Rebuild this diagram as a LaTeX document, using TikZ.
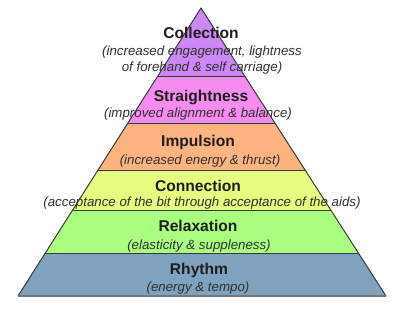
\documentclass[tikz,border=0pt]{standalone}
\usepackage{fontspec}
\setmainfont{Liberation Sans}
\usetikzlibrary{positioning,calc}

\begin{document}
\begin{tikzpicture}[x=1pt, y=1pt, line width=1pt,
  ttl/.style={font=\fontsize{15.6}{18}\selectfont\bfseries, text=txt, inner sep=0pt, anchor=base},
  sub/.style={font=\fontsize{13.3}{16}\selectfont\itshape, text=subtxt, align=center, inner sep=0pt, anchor=base},
  edge/.style={draw=rim, line width=1pt},
]
\definecolor{coll}{HTML}{CC88F7}
\definecolor{strt}{HTML}{F78CF0}
\definecolor{impl}{HTML}{FFB380}
\definecolor{conn}{HTML}{E6FF80}
\definecolor{relx}{HTML}{AAFF80}
\definecolor{rhym}{HTML}{7FA2BE}
\definecolor{rim}{HTML}{3A3A3A}
\definecolor{txt}{HTML}{1E1E1E}
\definecolor{subtxt}{HTML}{303030}
\useasboundingbox (0,0) rectangle (399,308);

% ---------------- pyramid ----------------
\coordinate (apex) at (201,300);
\coordinate (bl) at (18,12);
\coordinate (br) at (386,12);
\begin{scope}
  \clip (apex) -- (bl) -- (br) -- cycle;
  \fill[rhym] (0,12)  rectangle (399,54);
  \fill[relx] (0,54)  rectangle (399,97);
  \fill[conn] (0,97)  rectangle (399,137);
  \fill[impl] (0,137) rectangle (399,184);
  \fill[strt] (0,184) rectangle (399,231);
  \fill[coll] (0,231) rectangle (399,300);
  \draw[edge] (0,54)  -- (399,54);
  \draw[edge] (0,97)  -- (399,97);
  \draw[edge] (0,137) -- (399,137);
  \draw[edge] (0,184) -- (399,184);
  \draw[edge] (0,231) -- (399,231);
\end{scope}
\draw[edge, line join=round] (apex) -- (bl) -- (br) -- cycle;
\draw[draw=rim!70, line width=1.5pt] (bl) -- (br);

% ---------------- labels ----------------
\node[ttl] (tcoll) at (201,269.5) {Collection};
\node[sub] (scoll) at (202,236.3) {(increased engagement, lightness\\of forehand \& self carriage)};
\node[ttl] (tstrt) at (201,206.5) {Straightness};
\node[sub] (sstrt) at (198,190.3) {(improved alignment \& balance)};
\node[ttl] (timpl) at (198,161.5) {Impulsion};
\node[sub] (simpl) at (200,143.3) {(increased energy \& thrust)};
\node[ttl] (tconn) at (198,116.5) {Connection};
\node[sub] (sconn) at (202,101.3) {(acceptance of the bit through acceptance of the aids)};
\node[ttl] (trelx) at (198,76.5) {Relaxation};
\node[sub] (srelx) at (199,58.3) {(elasticity \& suppleness)};
\node[ttl] (trhym) at (199,33.5) {Rhythm};
\node[sub] (srhym) at (198,16.3) {(energy \& tempo)};
\end{tikzpicture}
\end{document}
